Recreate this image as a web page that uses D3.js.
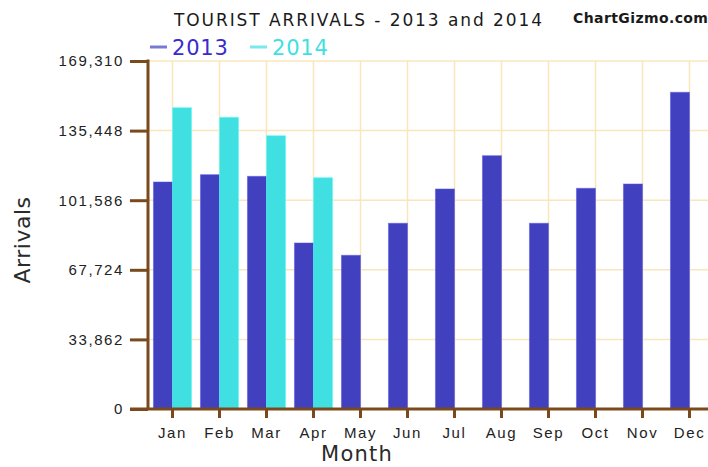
<!DOCTYPE html>
<html>
<head>
<meta charset="utf-8">
<script src="https://cdn.jsdelivr.net/npm/d3@7"></script>
<style>
  body { margin: 0; background: #fff; }
  svg { display: block; font-family: Verdana, "DejaVu Sans", sans-serif; }
</style>
</head>
<body>
<div id="chart"></div>
<script>
  // data
  var months = ['Jan', 'Feb', 'Mar', 'Apr', 'May', 'Jun', 'Jul', 'Aug', 'Sep', 'Oct', 'Nov', 'Dec'];
  var series = ['2013', '2014'];
  var arrivals2013 = [110440, 114000, 113200, 80760, 74770, 90350, 107040, 123240, 90350, 107370, 109470, 154080];
  var arrivals2014 = [146590, 141920, 132970, 112540, null, null, null, null, null, null, null, null];
  var yTicks = [0, 33862, 67724, 101586, 135448, 169310];

(function(){
  var W = 708, H = 467;
  var plotLeft = 148, plotTop = 61, plotBottom = 409;
  var colors = {'2013': '#4141c0', '2014': '#40e0e2'};
  var axisColor = '#7a4a1c';
  var gridColor = '#f8e6bc';

  var svg = d3.select('#chart').append('svg')
              .attr('width', W)
              .attr('height', H);

  var x0 = d3.scaleBand()
             .domain(months)
             .range([149, 149 + 47 * 12])
             .paddingInner(0.19)
             .paddingOuter(0.095);
  var x1 = d3.scaleBand()
             .domain(series)
             .range([0, x0.bandwidth()]);
  var y = d3.scaleLinear()
            .domain([0, 169310])
            .range([plotBottom, plotTop]);

  // grid
  var grid = svg.append('g');
  grid.selectAll('line.h')
      .data(yTicks)
      .enter()
      .append('line')
      .attr('x1', plotLeft)
      .attr('x2', W)
      .attr('y1', function(d){ return y(d); })
      .attr('y2', function(d){ return y(d); })
      .attr('stroke', gridColor)
      .attr('stroke-width', 1.5);
  grid.selectAll('line.v')
      .data(months)
      .enter()
      .append('line')
      .attr('x1', function(d){ return x0(d) + x0.bandwidth() / 2; })
      .attr('x2', function(d){ return x0(d) + x0.bandwidth() / 2; })
      .attr('y1', plotTop)
      .attr('y2', plotBottom)
      .attr('stroke', gridColor)
      .attr('stroke-width', 1.5);

  // bars
  var rows = months.map(function(m, i){
    return {month: m, values: [
      {key: '2013', value: arrivals2013[i]},
      {key: '2014', value: arrivals2014[i]}
    ]};
  });

  var groups = svg.selectAll('g.month')
                  .data(rows)
                  .enter()
                  .append('g')
                  .attr('transform', function(d){ return 'translate(' + x0(d.month) + ',0)'; });
  groups.selectAll('rect')
        .data(function(d){ return d.values.filter(function(v){ return v.value != null; }); })
        .enter()
        .append('rect')
        .attr('x', function(d){ return x1(d.key); })
        .attr('y', function(d){ return y(d.value); })
        .attr('width', x1.bandwidth())
        .attr('height', function(d){ return plotBottom - y(d.value); })
        .attr('fill', function(d){ return colors[d.key]; })
        .attr('stroke', function(d){ return d3.color(colors[d.key]).brighter(0.6); })
        .attr('stroke-opacity', 0.5)
        .attr('stroke-width', 1);

  // y axis
  var yAxis = d3.axisLeft(y)
                .tickValues(yTicks)
                .tickSize(18)
                .tickPadding(6)
                .tickFormat(d3.format(','));
  var yg = svg.append('g')
              .attr('transform', 'translate(' + plotLeft + ',0)')
              .call(yAxis);
  yg.select('.domain').remove();
  yg.selectAll('line').attr('stroke', axisColor).attr('stroke-width', 3);
  yg.selectAll('text')
    .attr('fill', '#222')
    .style('font-size', '15px')
    .style('letter-spacing', '1.6px');
  svg.append('line')
     .attr('x1', plotLeft).attr('x2', plotLeft)
     .attr('y1', plotTop - 1.5).attr('y2', plotBottom)
     .attr('stroke', axisColor)
     .attr('stroke-width', 3);

  // x axis
  var xAxis = d3.axisBottom(x0)
                .tickSize(9)
                .tickPadding(9);
  var xg = svg.append('g')
              .attr('transform', 'translate(0,' + plotBottom + ')')
              .call(xAxis);
  xg.select('.domain').remove();
  xg.selectAll('line').attr('stroke', axisColor).attr('stroke-width', 3);
  xg.selectAll('text')
    .attr('fill', '#222')
    .style('font-size', '15px')
    .style('letter-spacing', '1.6px');
  svg.append('line')
     .attr('x1', 130).attr('x2', W)
     .attr('y1', plotBottom).attr('y2', plotBottom)
     .attr('stroke', axisColor)
     .attr('stroke-width', 3);

  // titles
  svg.append('text')
     .attr('x', 174)
     .attr('y', 26)
     .attr('fill', '#1a1a1a')
     .attr('textLength', 368)
     .attr('lengthAdjust', 'spacing')
     .style('font-size', '17px')
     .text('TOURIST ARRIVALS - 2013 and 2014');
  svg.append('text')
     .attr('x', 573)
     .attr('y', 23)
     .attr('fill', '#1a1a1a')
     .style('font-size', '14px')
     .style('font-weight', 'bold')
     .style('letter-spacing', '0.4px')
     .text('ChartGizmo.com');
  svg.append('text')
     .attr('x', 357)
     .attr('y', 461)
     .attr('text-anchor', 'middle')
     .attr('fill', '#2a2a2a')
     .style('font-size', '21px')
     .style('letter-spacing', '1.2px')
     .text('Month');
  svg.append('text')
     .attr('transform', 'translate(30,240) rotate(-90)')
     .attr('text-anchor', 'middle')
     .attr('fill', '#2a2a2a')
     .style('font-size', '22px')
     .style('letter-spacing', '0.5px')
     .text('Arrivals');

  // legend
  var legendX = [150, 250];
  var legend = svg.selectAll('g.legend')
                  .data(series)
                  .enter()
                  .append('g')
                  .attr('transform', function(d, i){ return 'translate(' + legendX[i] + ',0)'; });
  legend.append('line')
        .attr('x1', 0).attr('x2', 17)
        .attr('y1', 47).attr('y2', 47)
        .attr('stroke', function(d){ return colors[d]; })
        .attr('stroke-opacity', 0.7)
        .attr('stroke-width', 3);
  legend.append('text')
        .attr('x', 22)
        .attr('y', 55)
        .attr('fill', function(d){ return d === '2013' ? '#3a2ad0' : colors[d]; })
        .style('font-size', '21px')
        .style('letter-spacing', '0.8px')
        .text(function(d){ return d; });
})();
</script>
</body>
</html>
